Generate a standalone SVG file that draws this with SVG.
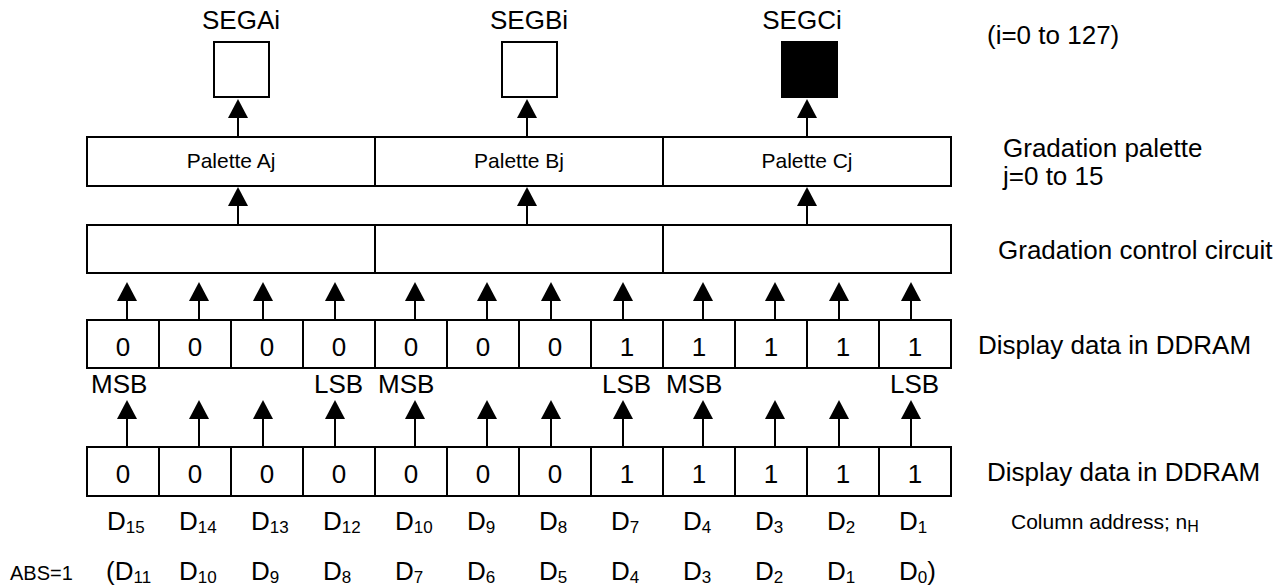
<svg xmlns="http://www.w3.org/2000/svg" width="1287" height="585" viewBox="0 0 1287 585">
  <style>
    text { font-family: "Liberation Sans", Arial, sans-serif; fill: #000; }
    .big { font-size: 26px; }
    .mid { font-size: 21px; }
    .sm { font-size: 20px; }
    .sub { font-size: 17px; }
    .c { text-anchor: middle; }
    .box { fill: #fff; stroke: #000; stroke-width: 2; }
    .solid { fill: #000; stroke: #000; stroke-width: 2; }
    .wire { stroke: #000; stroke-width: 2; fill: none; marker-end: url(#head); }
  </style>
  <defs>
    <marker id="head" markerUnits="userSpaceOnUse" markerWidth="19" markerHeight="20" refX="0" refY="10" orient="auto" overflow="visible">
      <path d="M0,0 L19,10 L0,20 Z" fill="#000"/>
    </marker>
  </defs>
  <rect width="1287" height="585" fill="#fff"/>

  <!-- segment outputs -->
  <g id="seg-a">
    <text class="big c" x="241" y="29">SEGAi</text>
    <rect class="box" x="214" y="42" width="55" height="55"/>
  </g>
  <g id="seg-b">
    <text class="big c" x="529" y="29">SEGBi</text>
    <rect class="box" x="502" y="42" width="55" height="55"/>
  </g>
  <g id="seg-c">
    <text class="big c" x="802" y="29">SEGCi</text>
    <rect class="solid" x="782" y="42" width="55" height="55"/>
  </g>

  <!-- gradation palettes -->
  <g id="palette-a">
    <rect class="box" x="87" y="137" width="288" height="49"/>
    <text class="mid c" x="231" y="168">Palette Aj</text>
  </g>
  <g id="palette-b">
    <rect class="box" x="375" y="137" width="288" height="49"/>
    <text class="mid c" x="519" y="168">Palette Bj</text>
  </g>
  <g id="palette-c">
    <rect class="box" x="663" y="137" width="288" height="49"/>
    <text class="mid c" x="807" y="168">Palette Cj</text>
  </g>

  <!-- gradation control circuit -->
  <g id="control-a"><rect class="box" x="87" y="225" width="288" height="48"/></g>
  <g id="control-b"><rect class="box" x="375" y="225" width="288" height="48"/></g>
  <g id="control-c"><rect class="box" x="663" y="225" width="288" height="48"/></g>

  <!-- display data, upper row -->
  <g id="data-upper">
    <rect class="box" x="87" y="320" width="72" height="48"/>
    <rect class="box" x="159" y="320" width="72" height="48"/>
    <rect class="box" x="231" y="320" width="72" height="48"/>
    <rect class="box" x="303" y="320" width="72" height="48"/>
    <rect class="box" x="375" y="320" width="72" height="48"/>
    <rect class="box" x="447" y="320" width="72" height="48"/>
    <rect class="box" x="519" y="320" width="72" height="48"/>
    <rect class="box" x="591" y="320" width="72" height="48"/>
    <rect class="box" x="663" y="320" width="72" height="48"/>
    <rect class="box" x="735" y="320" width="72" height="48"/>
    <rect class="box" x="807" y="320" width="72" height="48"/>
    <rect class="box" x="879" y="320" width="72" height="48"/>
    <text class="big c" x="123" y="356">0</text>
    <text class="big c" x="195" y="356">0</text>
    <text class="big c" x="267" y="356">0</text>
    <text class="big c" x="339" y="356">0</text>
    <text class="big c" x="411" y="356">0</text>
    <text class="big c" x="483" y="356">0</text>
    <text class="big c" x="555" y="356">0</text>
    <text class="big c" x="627" y="356">1</text>
    <text class="big c" x="699" y="356">1</text>
    <text class="big c" x="771" y="356">1</text>
    <text class="big c" x="843" y="356">1</text>
    <text class="big c" x="915" y="356">1</text>
  </g>
  <g id="bit-order">
    <text class="big" x="91" y="393">MSB</text>
    <text class="big" x="314" y="393">LSB</text>
    <text class="big" x="378" y="393">MSB</text>
    <text class="big" x="602" y="393">LSB</text>
    <text class="big" x="666" y="393">MSB</text>
    <text class="big" x="890" y="393">LSB</text>
  </g>

  <!-- display data, lower row -->
  <g id="data-lower">
    <rect class="box" x="87" y="447" width="72" height="49"/>
    <rect class="box" x="159" y="447" width="72" height="49"/>
    <rect class="box" x="231" y="447" width="72" height="49"/>
    <rect class="box" x="303" y="447" width="72" height="49"/>
    <rect class="box" x="375" y="447" width="72" height="49"/>
    <rect class="box" x="447" y="447" width="72" height="49"/>
    <rect class="box" x="519" y="447" width="72" height="49"/>
    <rect class="box" x="591" y="447" width="72" height="49"/>
    <rect class="box" x="663" y="447" width="72" height="49"/>
    <rect class="box" x="735" y="447" width="72" height="49"/>
    <rect class="box" x="807" y="447" width="72" height="49"/>
    <rect class="box" x="879" y="447" width="72" height="49"/>
    <text class="big c" x="123" y="483">0</text>
    <text class="big c" x="195" y="483">0</text>
    <text class="big c" x="267" y="483">0</text>
    <text class="big c" x="339" y="483">0</text>
    <text class="big c" x="411" y="483">0</text>
    <text class="big c" x="483" y="483">0</text>
    <text class="big c" x="555" y="483">0</text>
    <text class="big c" x="627" y="483">1</text>
    <text class="big c" x="699" y="483">1</text>
    <text class="big c" x="771" y="483">1</text>
    <text class="big c" x="843" y="483">1</text>
    <text class="big c" x="915" y="483">1</text>
  </g>

  <!-- data bit labels -->
  <g id="bit-labels">
    <text class="big" x="107" y="530">D<tspan class="sub" dy="3">15</tspan></text>
    <text class="big" x="179" y="530">D<tspan class="sub" dy="3">14</tspan></text>
    <text class="big" x="251" y="530">D<tspan class="sub" dy="3">13</tspan></text>
    <text class="big" x="323" y="530">D<tspan class="sub" dy="3">12</tspan></text>
    <text class="big" x="395" y="530">D<tspan class="sub" dy="3">10</tspan></text>
    <text class="big" x="467" y="530">D<tspan class="sub" dy="3">9</tspan></text>
    <text class="big" x="539" y="530">D<tspan class="sub" dy="3">8</tspan></text>
    <text class="big" x="611" y="530">D<tspan class="sub" dy="3">7</tspan></text>
    <text class="big" x="683" y="530">D<tspan class="sub" dy="3">4</tspan></text>
    <text class="big" x="755" y="530">D<tspan class="sub" dy="3">3</tspan></text>
    <text class="big" x="827" y="530">D<tspan class="sub" dy="3">2</tspan></text>
    <text class="big" x="899" y="530">D<tspan class="sub" dy="3">1</tspan></text>
  </g>
  <g id="abs-labels">
    <text class="sm" x="10" y="580">ABS=1</text>
    <text class="big" x="106" y="580">(D<tspan class="sub" dy="3">11</tspan></text>
    <text class="big" x="179" y="580">D<tspan class="sub" dy="3">10</tspan></text>
    <text class="big" x="251" y="580">D<tspan class="sub" dy="3">9</tspan></text>
    <text class="big" x="323" y="580">D<tspan class="sub" dy="3">8</tspan></text>
    <text class="big" x="395" y="580">D<tspan class="sub" dy="3">7</tspan></text>
    <text class="big" x="467" y="580">D<tspan class="sub" dy="3">6</tspan></text>
    <text class="big" x="539" y="580">D<tspan class="sub" dy="3">5</tspan></text>
    <text class="big" x="611" y="580">D<tspan class="sub" dy="3">4</tspan></text>
    <text class="big" x="683" y="580">D<tspan class="sub" dy="3">3</tspan></text>
    <text class="big" x="755" y="580">D<tspan class="sub" dy="3">2</tspan></text>
    <text class="big" x="827" y="580">D<tspan class="sub" dy="3">1</tspan></text>
    <text class="big" x="899" y="580">D<tspan class="sub" dy="3">0</tspan><tspan dy="-3">)</tspan></text>
  </g>

  <!-- row captions -->
  <g id="captions">
    <text class="big" x="987" y="44">(i=0 to 127)</text>
    <text class="big" x="1003" y="157">Gradation palette</text>
    <text class="big" x="1003" y="185">j=0 to 15</text>
    <text class="big" x="998" y="259">Gradation control circuit</text>
    <text class="big" x="978" y="354">Display data in DDRAM</text>
    <text class="big" x="987" y="481">Display data in DDRAM</text>
    <text font-size="21" x="1011" y="529">Column address; n<tspan font-size="16" dy="3">H</tspan></text>
  </g>

  <!-- connectors (line ends at arrowhead base) -->
  <g id="connectors">
    <line class="wire" x1="238" y1="137" x2="238" y2="118"/>
    <line class="wire" x1="527" y1="137" x2="527" y2="118"/>
    <line class="wire" x1="807" y1="137" x2="807" y2="118"/>

    <line class="wire" x1="238" y1="225" x2="238" y2="206"/>
    <line class="wire" x1="527" y1="225" x2="527" y2="206"/>
    <line class="wire" x1="807" y1="225" x2="807" y2="206"/>

    <line class="wire" x1="127" y1="320" x2="127" y2="301"/>
    <line class="wire" x1="199" y1="320" x2="199" y2="301"/>
    <line class="wire" x1="263" y1="320" x2="263" y2="301"/>
    <line class="wire" x1="335" y1="320" x2="335" y2="301"/>
    <line class="wire" x1="415" y1="320" x2="415" y2="301"/>
    <line class="wire" x1="487" y1="320" x2="487" y2="301"/>
    <line class="wire" x1="551" y1="320" x2="551" y2="301"/>
    <line class="wire" x1="623" y1="320" x2="623" y2="301"/>
    <line class="wire" x1="703" y1="320" x2="703" y2="301"/>
    <line class="wire" x1="775" y1="320" x2="775" y2="301"/>
    <line class="wire" x1="839" y1="320" x2="839" y2="301"/>
    <line class="wire" x1="911" y1="320" x2="911" y2="301"/>

    <line class="wire" x1="127" y1="447" x2="127" y2="419"/>
    <line class="wire" x1="199" y1="447" x2="199" y2="419"/>
    <line class="wire" x1="263" y1="447" x2="263" y2="419"/>
    <line class="wire" x1="335" y1="447" x2="335" y2="419"/>
    <line class="wire" x1="415" y1="447" x2="415" y2="419"/>
    <line class="wire" x1="487" y1="447" x2="487" y2="419"/>
    <line class="wire" x1="551" y1="447" x2="551" y2="419"/>
    <line class="wire" x1="623" y1="447" x2="623" y2="419"/>
    <line class="wire" x1="703" y1="447" x2="703" y2="419"/>
    <line class="wire" x1="775" y1="447" x2="775" y2="419"/>
    <line class="wire" x1="839" y1="447" x2="839" y2="419"/>
    <line class="wire" x1="911" y1="447" x2="911" y2="419"/>
  </g>
</svg>
